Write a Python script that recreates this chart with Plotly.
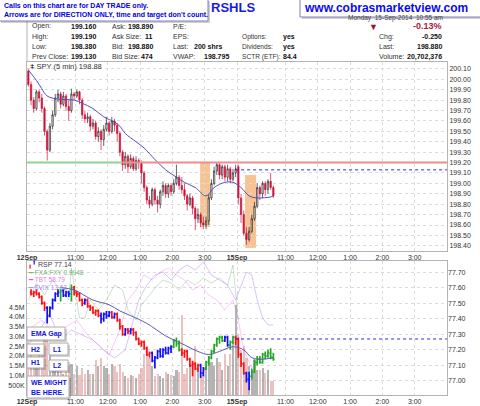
import plotly.graph_objects as go

W, H = 480, 406

# SPY 5 min bars, bar 0 = 12Sep 9:30, bar 78 = 15Sep 9:30
spy_open = [200.08, 199.95, 199.80, 199.72, 199.88, 199.82, 199.72, 199.50, 199.32, 199.55,
            199.66, 199.82, 199.86, 199.76, 199.84, 199.74, 199.70, 199.86, 199.84, 199.88,
            199.80, 199.66, 199.62, 199.64, 199.55, 199.58, 199.45, 199.50, 199.42, 199.52,
            199.58, 199.50, 199.60, 199.56, 199.48, 199.30, 199.18, 199.26, 199.16, 199.24,
            199.14, 199.22, 199.20, 199.10, 198.96, 198.84, 198.80, 198.94, 198.84, 198.80,
            198.92, 198.98, 198.90, 198.98, 198.92, 199.00, 199.06, 198.98, 198.94, 198.88,
            198.80, 198.86, 198.76, 198.66, 198.70, 198.62, 198.60, 198.64, 198.86, 199.00,
            199.12, 199.18, 199.08, 199.16, 199.06, 199.14, 199.04, 199.10, 199.16, 198.86,
            198.70, 198.52, 198.46, 198.54, 198.66, 198.78, 198.96, 198.90, 199.00, 198.94,
            199.02, 198.96]
spy_high = [200.10, 199.98, 199.83, 199.90, 199.90, 199.86, 199.74, 199.52, 199.58, 199.70,
            199.86, 199.90, 199.88, 199.88, 199.86, 199.80, 199.91, 199.88, 199.90, 199.89,
            199.82, 199.70, 199.68, 199.66, 199.62, 199.60, 199.54, 199.52, 199.56, 199.64,
            199.60, 199.64, 199.62, 199.58, 199.50, 199.32, 199.30, 199.28, 199.28, 199.26,
            199.26, 199.24, 199.22, 199.12, 198.98, 198.88, 198.96, 198.96, 198.88, 198.94,
            199.02, 199.00, 199.00, 199.00, 199.04, 199.18, 199.08, 199.06, 199.00, 198.90,
            198.90, 198.88, 198.78, 198.76, 198.72, 198.68, 198.68, 198.90, 199.04, 199.16,
            199.20, 199.20, 199.18, 199.18, 199.18, 199.16, 199.14, 199.18, 199.18, 198.90,
            198.74, 198.58, 198.58, 198.70, 198.82, 199.00, 198.98, 199.02, 199.02, 199.04,
            199.10, 198.98]
spy_low = [199.93, 199.75, 199.68, 199.70, 199.78, 199.68, 199.46, 199.22, 199.30, 199.52,
           199.64, 199.78, 199.72, 199.74, 199.70, 199.60, 199.68, 199.80, 199.82, 199.76,
           199.62, 199.58, 199.58, 199.50, 199.52, 199.42, 199.40, 199.32, 199.36, 199.50,
           199.46, 199.48, 199.50, 199.40, 199.26, 199.12, 199.14, 199.10, 199.14, 199.12,
           199.12, 199.14, 199.00, 198.92, 198.80, 198.76, 198.78, 198.80, 198.72, 198.76,
           198.88, 198.86, 198.86, 198.88, 198.90, 198.98, 198.94, 198.90, 198.84, 198.74,
           198.78, 198.70, 198.55, 198.62, 198.58, 198.56, 198.56, 198.60, 198.84, 198.98,
           199.08, 199.04, 199.04, 199.02, 199.02, 199.00, 199.02, 199.06, 198.80, 198.62,
           198.50, 198.41, 198.44, 198.52, 198.64, 198.76, 198.84, 198.86, 198.88, 198.90,
           198.94, 198.86]
spy_close = [199.95, 199.80, 199.72, 199.88, 199.82, 199.72, 199.50, 199.32, 199.55, 199.66,
             199.82, 199.86, 199.76, 199.84, 199.74, 199.70, 199.86, 199.84, 199.88, 199.80,
             199.66, 199.62, 199.64, 199.55, 199.58, 199.45, 199.50, 199.42, 199.52, 199.58,
             199.50, 199.60, 199.56, 199.48, 199.30, 199.18, 199.26, 199.16, 199.24, 199.14,
             199.22, 199.20, 199.10, 198.96, 198.84, 198.80, 198.94, 198.84, 198.80, 198.92,
             198.98, 198.90, 198.98, 198.92, 199.00, 199.06, 198.98, 198.94, 198.88, 198.80,
             198.86, 198.76, 198.66, 198.70, 198.62, 198.60, 198.64, 198.86, 199.00, 199.12,
             199.18, 199.08, 199.16, 199.06, 199.14, 199.04, 199.10, 199.14, 198.86, 198.70,
             198.52, 198.46, 198.54, 198.66, 198.78, 198.96, 198.90, 199.00, 198.94, 199.02,
             198.96, 198.88]

# moving average on the price panel (read at some bars)
spy_ma_bar = [0, 3, 5, 7, 11, 17, 20, 24, 28, 32, 34, 36, 40, 43, 47, 51, 55, 58, 62, 66,
              69, 73, 76, 79, 82, 85, 90, 91]
spy_ma = [200.09, 199.99, 199.91, 199.84, 199.81, 199.80, 199.77, 199.72, 199.64, 199.59,
          199.55, 199.48, 199.40, 199.34, 199.23, 199.13, 199.06, 199.01, 198.96, 198.88,
          198.96, 199.01, 199.01, 198.96, 198.88, 198.86, 198.87, 198.88]

# volume, millions
volume = [3.0, 2.3, 1.9, 1.7, 2.1, 2.5, 2.8, 2.9, 2.1, 1.8,
          1.5, 1.3, 1.4, 1.1, 1.2, 1.5, 1.6, 1.1, 1.5, 1.0,
          1.4, 1.1, 1.3, 1.1, 1.1, 1.8, 1.5, 1.9, 1.5, 1.4,
          1.1, 1.6, 1.5, 1.2, 1.6, 1.2, 0.95, 0.85, 1.05, 0.95,
          0.85, 1.1, 1.4, 2.1, 2.5, 1.9, 1.5, 0.95, 1.1, 0.95,
          0.85, 1.2, 1.1, 1.05, 0.95, 1.3, 1.2, 4.1, 1.1, 1.4,
          1.5, 1.7, 2.5, 1.4, 1.05, 1.1, 1.5, 1.9, 1.7, 1.5,
          1.9, 1.7, 1.3, 2.1, 1.5, 2.1, 2.7, 4.6, 3.1, 2.3,
          2.5, 1.9, 1.5, 1.25, 1.8, 1.3, 1.3, 1.4, 1.15, 1.3,
          0.7, 0.7]

# RSP 5 min bars from bar 1, coloured r / b / g
rsp_open = [77.57, 77.56, 77.57, 77.56, 77.54, 77.50, 77.47, 77.42, 77.47, 77.52,
            77.56, 77.57, 77.58, 77.55, 77.57, 77.56, 77.60, 77.57, 77.56, 77.52,
            77.50, 77.52, 77.48, 77.47, 77.44, 77.45, 77.42, 77.40, 77.43, 77.42,
            77.44, 77.41, 77.43, 77.39, 77.35, 77.30, 77.33, 77.32, 77.33, 77.31,
            77.27, 77.24, 77.25, 77.21, 77.17, 77.18, 77.13, 77.15, 77.19, 77.16,
            77.20, 77.18, 77.21, 77.22, 77.26, 77.24, 77.20, 77.18, 77.19, 77.14,
            77.10, 77.11, 77.08, 77.10, 77.05, 77.08, 77.12, 77.15, 77.19, 77.23,
            77.27, 77.28, 77.26, 77.28, 77.23, 77.25, 77.28, 77.27, 77.17, 77.11,
            77.05, 77.01, 77.03, 77.06, 77.12, 77.14, 77.12, 77.17, 77.16, 77.18,
            77.15]
rsp_high = [77.59, 77.58, 77.59, 77.57, 77.55, 77.51, 77.48, 77.48, 77.53, 77.57,
            77.59, 77.59, 77.59, 77.58, 77.58, 77.62, 77.61, 77.58, 77.57, 77.53,
            77.53, 77.53, 77.49, 77.48, 77.46, 77.46, 77.44, 77.44, 77.45, 77.45,
            77.45, 77.44, 77.44, 77.40, 77.36, 77.34, 77.34, 77.34, 77.34, 77.32,
            77.28, 77.26, 77.26, 77.22, 77.19, 77.19, 77.16, 77.20, 77.21, 77.21,
            77.22, 77.22, 77.23, 77.27, 77.28, 77.26, 77.21, 77.20, 77.20, 77.15,
            77.13, 77.12, 77.11, 77.11, 77.09, 77.13, 77.16, 77.20, 77.24, 77.28,
            77.29, 77.29, 77.29, 77.29, 77.26, 77.29, 77.29, 77.28, 77.18, 77.12,
            77.06, 77.06, 77.08, 77.14, 77.16, 77.16, 77.18, 77.19, 77.20, 77.21,
            77.18]
rsp_low = [77.55, 77.54, 77.55, 77.53, 77.49, 77.45, 77.37, 77.41, 77.46, 77.51,
           77.54, 77.51, 77.54, 77.54, 77.54, 77.51, 77.55, 77.54, 77.51, 77.48,
           77.49, 77.47, 77.45, 77.43, 77.42, 77.41, 77.37, 77.38, 77.40, 77.41,
           77.40, 77.40, 77.38, 77.33, 77.29, 77.29, 77.30, 77.30, 77.29, 77.26,
           77.23, 77.22, 77.20, 77.16, 77.15, 77.12, 77.08, 77.14, 77.15, 77.15,
           77.17, 77.17, 77.18, 77.21, 77.22, 77.19, 77.16, 77.15, 77.13, 77.09,
           77.03, 77.07, 77.06, 77.02, 77.03, 77.07, 77.10, 77.14, 77.18, 77.22,
           77.24, 77.25, 77.25, 77.22, 77.20, 77.24, 77.23, 77.15, 77.09, 77.04,
           76.99, 76.94, 77.01, 77.05, 77.10, 77.11, 77.11, 77.14, 77.15, 77.14,
           77.13]
rsp_close = [77.56, 77.57, 77.56, 77.54, 77.50, 77.47, 77.42, 77.47, 77.52, 77.56,
             77.57, 77.58, 77.55, 77.57, 77.56, 77.60, 77.57, 77.56, 77.52, 77.50,
             77.52, 77.48, 77.47, 77.44, 77.45, 77.42, 77.40, 77.43, 77.42, 77.44,
             77.41, 77.43, 77.39, 77.35, 77.30, 77.33, 77.32, 77.33, 77.31, 77.27,
             77.24, 77.25, 77.21, 77.17, 77.18, 77.13, 77.15, 77.19, 77.16, 77.20,
             77.18, 77.21, 77.22, 77.26, 77.24, 77.20, 77.18, 77.19, 77.14, 77.10,
             77.11, 77.08, 77.10, 77.05, 77.08, 77.12, 77.15, 77.19, 77.23, 77.27,
             77.28, 77.26, 77.28, 77.23, 77.25, 77.28, 77.27, 77.17, 77.11, 77.05,
             77.01, 77.03, 77.06, 77.12, 77.14, 77.12, 77.17, 77.16, 77.18, 77.15,
             77.14]
rsp_col = list("rrrrrrbbbb" "bgbbbgrrrr"
               "brrrrrbbbb" "rbrrrbrbrr"
               "rrrrrbbbbb" "bbbgggrrrr"
               "rrrbbggggg" "ggbbggrrrr"
               "bbggggggggg")

rsp_ma_bar = [12, 17, 24, 30, 34, 38, 44, 51, 57, 63, 67, 71, 76, 80, 83, 87, 91]
rsp_ma = [77.60, 77.585, 77.52, 77.49, 77.45, 77.42, 77.37, 77.29, 77.24, 77.19,
          77.17, 77.19, 77.22, 77.20, 77.15, 77.14, 77.15]

# overlays in the lower panel (own scales)
fx_bar = [0, 3, 6, 9, 12, 15, 16, 18, 19, 21, 23, 26, 29, 32, 35, 37, 40, 42, 45, 48,
          50, 53, 56, 59, 62, 65, 68, 71, 74, 76, 78]
fxa_fxy = [0.9968, 0.9985, 0.9973, 0.9988, 0.9978, 0.9968, 1.0000, 0.9968, 0.9950, 0.9950,
           0.9968, 0.9958, 0.9968, 0.9983, 0.9978, 0.9958, 0.9948, 0.9963, 0.9973, 0.9983,
           0.9988, 0.9985, 0.9978, 0.9988, 0.9983, 0.9990, 0.9985, 0.9990, 0.9983, 1.0003,
           0.9948]
vix_bar = [0, 4, 8, 12, 16, 20, 24, 28, 32, 36, 38, 41, 44, 47, 50, 53, 56, 59, 62, 65,
           68, 71, 74, 77, 79, 81, 83, 85, 87, 89, 91]
vix = [13.42, 13.57, 13.72, 13.47, 13.57, 13.52, 13.47, 13.37, 13.29, 13.37,
       13.57, 13.87, 14.02, 14.12, 14.15, 14.07, 14.17, 14.22, 14.17, 14.25,
       14.12, 14.07, 14.02, 13.87, 14.02, 14.15, 14.12, 13.87, 13.69, 13.62, 13.62]
tbt_bar = [0, 5, 10, 15, 18, 22, 26, 30, 34, 37, 40, 43, 46, 49, 52, 55, 58, 61, 64, 67,
           70, 73, 76, 78, 80, 83, 86, 89, 91]
tbt = [59.01, 59.11, 58.96, 59.06, 59.11, 58.96, 58.86, 58.76, 59.01, 59.31,
       59.41, 59.56, 59.51, 59.59, 59.63, 59.56, 59.51, 59.41, 59.46, 59.36,
       59.31, 59.21, 59.31, 59.11, 58.81, 58.63, 58.71, 58.76, 58.79]

# levels and zones
support = 199.20
support_split = 34.8
spy_dotted = 199.13
rsp_dotted = 77.27
dotted_from = 76.8
zone_x0 = [63.8, 80.5]
zone_x1 = [67.5, 84.6]
zone_top = [199.20, 199.08]
zone_bot = [198.58, 198.38]

tick_bars = [-0.5, 17.5, 29.5, 41.5, 53.5, 65.5, 77.5, 95.5, 107.5, 119.5, 131.5, 143.5]
tick_text = ['<b>12Sep</b>', '11:00', '12:00', '1:00', '2:00', '3:00',
             '<b>15Sep</b>', '11:00', '12:00', '1:00', '2:00', '3:00']
spy_ticks = [198.40 + 0.1 * k for k in range(18)]
rsp_ticks = [77.00 + 0.1 * k for k in range(8)]
vol_ticks = [0.5, 1.0, 1.5, 2.0, 2.5, 3.0, 3.5, 4.0, 4.5]
vol_text = ['500K', '1.0M', '1.5M', '2.0M', '2.5M', '3.0M', '3.5M', '4.0M', '4.5M']

bars = list(range(len(spy_close)))
rsp_bars = list(range(1, len(rsp_close) + 1))

fig = go.Figure()

fig.add_trace(go.Candlestick(
    x=bars, open=spy_open, high=spy_high, low=spy_low, close=spy_close,
    increasing=dict(line=dict(color='#222', width=0.7), fillcolor='white'),
    decreasing=dict(line=dict(color='#d0103a', width=0.7), fillcolor='#d0103a'),
    whiskerwidth=0, xaxis='x', yaxis='y', showlegend=False, hoverinfo='skip'))
fig.add_trace(go.Scatter(x=spy_ma_bar, y=spy_ma, mode='lines', line=dict(color='#5050c0', width=1),
                         line_shape='spline', xaxis='x', yaxis='y', showlegend=False))

vol_colors = ['rgba(130,130,130,0.6)' if c >= o else 'rgba(205,100,100,0.4)'
              for o, c in zip(spy_open, spy_close)]
fig.add_trace(go.Bar(x=bars, y=[v * 1e6 for v in volume], marker_color=vol_colors,
                     marker_line_width=0, width=0.8, xaxis='x2', yaxis='y2', showlegend=False))
fig.add_trace(go.Scatter(x=fx_bar, y=fxa_fxy, mode='lines', line=dict(color='rgba(80,160,80,0.3)', width=1),
                         xaxis='x2', yaxis='y3', showlegend=False))
fig.add_trace(go.Scatter(x=tbt_bar, y=tbt, mode='lines', line=dict(color='rgba(240,80,240,0.3)', width=1),
                         xaxis='x2', yaxis='y4', showlegend=False))
fig.add_trace(go.Scatter(x=vix_bar, y=vix, mode='lines', line=dict(color='rgba(160,110,230,0.4)', width=1),
                         xaxis='x2', yaxis='y5', showlegend=False))
fig.add_trace(go.Scatter(x=rsp_ma_bar, y=rsp_ma, mode='lines', line=dict(color='#5a5ab4', width=1),
                         line_shape='spline', xaxis='x2', yaxis='y6', showlegend=False))

for code, color in [('r', '#ff1010'), ('b', '#1010ff'), ('g', '#22aa22')]:
    sel = [k for k, cc in enumerate(rsp_col) if cc == code]
    fig.add_trace(go.Ohlc(
        x=[rsp_bars[k] for k in sel], open=[rsp_open[k] for k in sel],
        high=[rsp_high[k] for k in sel], low=[rsp_low[k] for k in sel],
        close=[rsp_close[k] for k in sel], tickwidth=0.45,
        increasing_line=dict(color=color, width=1.7), decreasing_line=dict(color=color, width=1.7),
        xaxis='x2', yaxis='y6', showlegend=False, hoverinfo='skip'))

dom_x = [27 / W, 447 / W]
top_dom = [1 - 251 / H, 1 - 62 / H]
low_dom = [1 - 395 / H, 1 - 261 / H]
grid = dict(showgrid=True, gridcolor='#dcdcdc', griddash='dot', gridwidth=1)
frame = dict(showline=True, linecolor='#b4b4b4', linewidth=1, mirror=True, zeroline=False)
tfont = dict(family='Arial', size=7, color='#333')

xcommon = dict(domain=dom_x, range=[-0.5, 155.5], tickvals=tick_bars, ticktext=tick_text,
               tickfont=tfont, ticks='', automargin=False, rangeslider=dict(visible=False),
               **grid, **frame)

fig.update_layout(
    width=W, height=H, margin=dict(l=0, r=0, t=0, b=0, autoexpand=False),
    paper_bgcolor='white', plot_bgcolor='white', showlegend=False, bargap=0,
    xaxis=dict(anchor='y', **xcommon),
    yaxis=dict(domain=top_dom, range=[198.35, 200.167], side='right', anchor='x',
               tickvals=spy_ticks, ticktext=['%.2f' % t for t in spy_ticks],
               tickfont=tfont, ticks='', automargin=False, **grid, **frame),
    xaxis2=dict(anchor='y2', **xcommon),
    yaxis2=dict(domain=low_dom, range=[0, 6.87e6], side='left', anchor='x2',
                tickvals=[v * 1e6 for v in vol_ticks], ticktext=vol_text,
                tickfont=tfont, ticks='', automargin=False, showgrid=False, **frame),
    yaxis3=dict(overlaying='y2', anchor='x2', range=[0.9873, 1.0007], visible=False, automargin=False),
    yaxis4=dict(overlaying='y2', anchor='x2', range=[58.36, 59.70], visible=False, automargin=False),
    yaxis5=dict(overlaying='y2', anchor='x2', range=[12.92, 14.26], visible=False, automargin=False),
    yaxis6=dict(overlaying='y2', anchor='x2', side='right', range=[76.91, 77.771],
                tickvals=rsp_ticks, ticktext=['%.2f' % t for t in rsp_ticks],
                tickfont=tfont, ticks='', automargin=False, **grid, zeroline=False),
)

# zones and levels
for x0, x1, y0, y1 in zip(zone_x0, zone_x1, zone_bot, zone_top):
    fig.add_shape(type='rect', xref='x', yref='y', x0=x0, x1=x1, y0=y0, y1=y1,
                  fillcolor='rgba(245,175,110,0.75)', line_width=0, layer='below')
fig.add_shape(type='line', xref='x', yref='y', x0=-0.5, x1=support_split, y0=support, y1=support,
              line=dict(color='#8fd38f', width=2))
fig.add_shape(type='line', xref='x', yref='y', x0=support_split, x1=155.5, y0=support, y1=support,
              line=dict(color='#f08c8c', width=2))
fig.add_shape(type='line', xref='x', yref='y', x0=dotted_from, x1=155.5, y0=spy_dotted, y1=spy_dotted,
              line=dict(color='#2828e6', width=1, dash='dot'))
fig.add_shape(type='line', xref='x2', yref='y6', x0=dotted_from, x1=155.5, y0=rsp_dotted, y1=rsp_dotted,
              line=dict(color='#2828e6', width=1, dash='dot'))


def P(x, y):
    return x / W, 1 - y / H


def note(x, y, text, size=7, color='#333', anchor='left', bold=False):
    px, py = P(x, y)
    fig.add_annotation(x=px, y=py, xref='paper', yref='paper', showarrow=False,
                       text='<b>%s</b>' % text if bold else text, xanchor=anchor, yanchor='middle',
                       borderpad=0, font=dict(family='Arial', size=size, color=color))


def box(x0, y0, x1, y1, edge='#aaaaaa'):
    a, b = P(x0 + 2, y1 + 2)
    c, d = P(x1 + 2, y0 + 2)
    fig.add_shape(type='rect', xref='paper', yref='paper', x0=a, y0=b, x1=c, y1=d,
                  fillcolor='rgba(0,0,0,0.18)', line_width=0, layer='above')
    a, b = P(x0, y1)
    c, d = P(x1, y0)
    fig.add_shape(type='rect', xref='paper', yref='paper', x0=a, y0=b, x1=c, y1=d,
                  fillcolor='white', line=dict(color=edge, width=1), layer='above')


# header
fig.add_shape(type='line', xref='paper', yref='paper', x0=27 / W, x1=27 / W, y0=1 - 62 / H, y1=1 - 20 / H,
              line=dict(color='#b4b4b4', width=1))
note(210, 8, 'RSHLS', size=13, color='#1a1ae6', bold=True)
note(347, 18, 'Monday  15-Sep-2014  10:55 am', size=6.5, color='#444')
note(373, 26.5, '▼', size=9, color='#a01030', anchor='center')
note(443, 26, '-0.13%', size=9, color='#b01838', anchor='right', bold=True)

rows = [26, 36.7, 46.7, 56.7]
for y, lab, val in zip(rows, ['Open:', 'High:', 'Low:', 'Prev Close:'],
                       ['199.160', '199.190', '198.380', '199.130']):
    note(31, y, lab)
    note(97, y, val, anchor='right', bold=True, color='#111')
for y, lab, val in zip(rows, ['Ask:', 'Ask Size:', 'Bid:', 'Bid Size:'],
                       ['198.890', '11', '198.880', '474']):
    note(111, y, lab)
    note(154, y, val, anchor='right', bold=True, color='#111')
for y, lab in zip(rows, ['P/E:', 'EPS:', 'Last:', 'VWAP:']):
    note(172, y, lab)
note(224, rows[2], '200 shrs', anchor='right', bold=True, color='#111')
note(230, rows[3], '198.795', anchor='right', bold=True, color='#111')
for y, lab, val in zip(rows[1:], ['Options:', 'Dividends:', 'SCTR (ETF):'], ['yes', 'yes', '84.4']):
    note(241, y, lab, size=6.6)
    note(282, y, val, bold=True, color='#111')
for y, lab, val in zip(rows[1:], ['Chg:', 'Last:', 'Volume:'], ['-0.250', '198.880', '20,702,376']):
    note(378, y, lab)
    note(443, y, val, anchor='right', bold=True, color='#111')

# boxes on top
box(-1, -1, 208, 21, edge='#8080b8')
note(3, 6, 'Calls on this chart are for DAY TRADE only.', size=7, color='#0000e0', bold=True)
note(3, 15, "Arrows are for DIRECTION ONLY, time and target don't count.", size=7, color='#0000e0', bold=True)
box(300, -1, 481, 17, edge='#8080b8')
note(303, 8, 'www.cobrasmarketview.com', size=12, color='#0a0af0', bold=True)

# panel legends
note(29, 67, '<span style="color:#000">ǂ</span> SPY (5 min) 198.88', size=7.5, color='#333')
note(27, 264, '<span style="color:#e00">╻</span><span style="color:#00e">╹</span> RSP 77.14', size=7, color='#444')
note(27, 272, '<span style="color:#2a9a2a">━</span> FXA:FXY 0.9948', size=6.5, color='rgba(40,140,40,0.7)')
note(27, 279.5, '<span style="color:#f0f">━</span> TBT 58.79', size=6.5, color='rgba(240,60,240,0.75)')
note(27, 287, '<span style="color:#a070ff">━</span> $VIX 13.62', size=6.5, color='rgba(150,100,240,0.8)')

# annotation boxes in the lower panel
blue = '#1414dc'
for (x0, y0, x1, y1), txt in [((27, 327, 65, 340), 'EMA Gap'), ((27, 344, 44, 355), 'H2'),
                              ((49, 343, 68, 355), 'L1'), ((27, 357, 44, 368), 'H1'),
                              ((49, 360, 68, 371), 'L2')]:
    box(x0, y0, x1, y1)
    note(x0 + 3, (y0 + y1) / 2, txt, size=7, color=blue, bold=True)
box(27, 376, 69, 398)
note(30, 382, 'WE MIGHT', size=7, color=blue, bold=True)
note(30, 392, 'BE HERE.', size=7, color=blue, bold=True)

# the page body has a default margin; drop it so the figure sits at the top-left corner
fig.write_html('out.html', config={'displayModeBar': False},
               post_script="document.body.style.margin='0';")
